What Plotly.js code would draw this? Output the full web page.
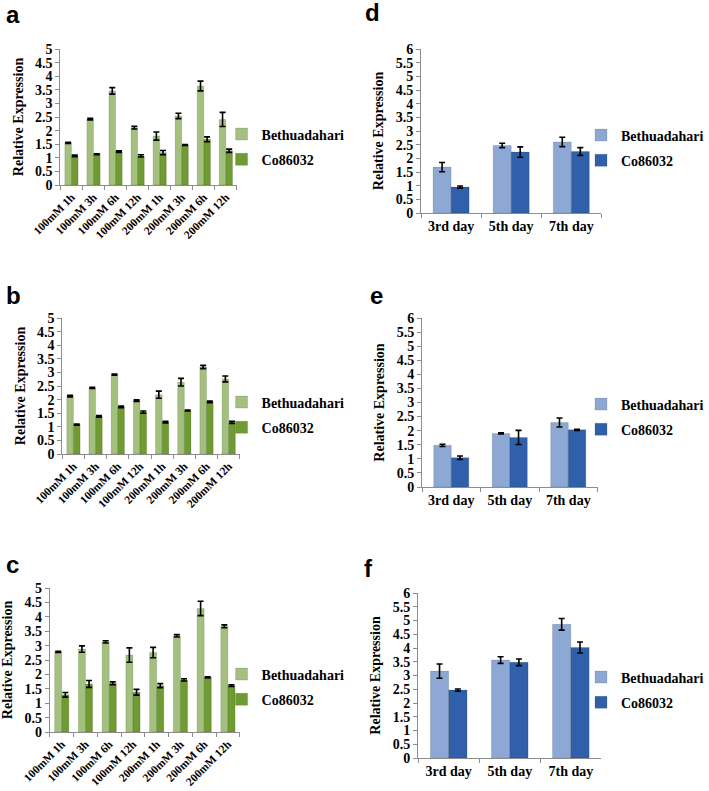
<!DOCTYPE html>
<html>
<head>
<meta charset="utf-8">
<script src="https://cdn.plot.ly/plotly-3.0.1.min.js"></script>
<style>
  body { margin: 0; background: #fff; }
  #plotArea { width: 709px; height: 791px; }
</style>
</head>
<body>
<div id="plotArea"></div>
<script>
// categories
var saltTimes = ["100mM 1h", "100mM 3h", "100mM 6h", "100mM 12h", "200mM 1h", "200mM 3h", "200mM 6h", "200mM 12h"];
var days = ["3rd day", "5th day", "7th day"];

// panel a
var aBeth = [1.55, 2.42, 3.46, 2.11, 1.80, 2.54, 3.64, 2.41];
var aBethErr = [0.02, 0.03, 0.12, 0.05, 0.15, 0.10, 0.18, 0.26];
var aCo = [1.07, 1.13, 1.23, 1.07, 1.19, 1.47, 1.68, 1.26];
var aCoErr = [0.03, 0.02, 0.03, 0.04, 0.08, 0.02, 0.09, 0.06];

// panel b
var bBeth = [2.13, 2.43, 2.92, 1.96, 2.18, 2.64, 3.20, 2.76];
var bBethErr = [0.03, 0.02, 0.02, 0.03, 0.13, 0.14, 0.06, 0.11];
var bCo = [1.08, 1.38, 1.73, 1.54, 1.17, 1.60, 1.92, 1.16];
var bCoErr = [0.02, 0.03, 0.03, 0.04, 0.03, 0.02, 0.03, 0.04];

// panel c
var cBeth = [2.78, 2.88, 3.13, 2.67, 2.76, 3.34, 4.29, 3.67];
var cBethErr = [0.02, 0.11, 0.04, 0.25, 0.18, 0.04, 0.25, 0.05];
var cCo = [1.29, 1.67, 1.69, 1.38, 1.61, 1.81, 1.90, 1.61];
var cCoErr = [0.08, 0.12, 0.05, 0.10, 0.07, 0.04, 0.02, 0.03];

// panel d
var dBeth = [1.68, 2.47, 2.60];
var dBethErr = [0.17, 0.08, 0.17];
var dCo = [0.95, 2.23, 2.25];
var dCoErr = [0.04, 0.19, 0.14];

// panel e
var eBeth = [1.48, 1.90, 2.29];
var eBethErr = [0.04, 0.02, 0.16];
var eCo = [1.04, 1.76, 2.03];
var eCoErr = [0.06, 0.25, 0.02];

// panel f
var fBeth = [3.16, 3.56, 4.86];
var fBethErr = [0.26, 0.12, 0.21];
var fCo = [2.47, 3.48, 4.02];
var fCoErr = [0.04, 0.12, 0.20];

var W = 709, H = 791;
function px(x) { return x / W; }
function py(y) { return 1 - y / H; }

var green1 = "#a3c07f", green2 = "#6f9b32";
var blue1 = "#8ea8d6", blue2 = "#2f60a9";

// box = [left, top, right, bottom] in pixels
var panels = [
  {id: "a", cats: saltTimes, beth: aBeth, bethErr: aBethErr, co: aCo, coErr: aCoErr, ymax: 5, box: [63, 49, 247, 185], leg: [253, 147], c1: green1, c2: green2, letter: [14, 14]},
  {id: "b", cats: saltTimes, beth: bBeth, bethErr: bBethErr, co: bCo, coErr: bCoErr, ymax: 5, box: [65, 318, 250, 454], leg: [253, 415], c1: green1, c2: green2, letter: [14, 295]},
  {id: "c", cats: saltTimes, beth: cBeth, bethErr: cBethErr, co: cCo, coErr: cCoErr, ymax: 5, box: [52, 588, 250, 732], leg: [253, 687], c1: green1, c2: green2, letter: [13, 564]},
  {id: "d", cats: days, beth: dBeth, bethErr: dBethErr, co: dCo, coErr: dCoErr, ymax: 6, box: [439, 49, 627, 213], leg: [628, 148], c1: blue1, c2: blue2, letter: [388, 13]},
  {id: "e", cats: days, beth: eBeth, bethErr: eBethErr, co: eCo, coErr: eCoErr, ymax: 6, box: [440, 318, 623, 487], leg: [628, 417], c1: blue1, c2: blue2, letter: [393, 295]},
  {id: "f", cats: days, beth: fBeth, bethErr: fBethErr, co: fCo, coErr: fCoErr, ymax: 6, box: [436, 593, 627, 758], leg: [628, 690], c1: blue1, c2: blue2, letter: [384, 568]}
];

var serif = "Liberation Serif";
var data = [];
var layout = {
  width: W, height: H,
  margin: {l: 0, r: 0, t: 0, b: 0},
  paper_bgcolor: "#ffffff",
  plot_bgcolor: "rgba(0,0,0,0)",
  barmode: "group",
  bargap: 0.4,
  bargroupgap: 0,
  font: {family: serif, color: "#000"},
  annotations: []
};

panels.forEach(function(p, i) {
  var n = i + 1;
  var xa = n === 1 ? "x" : "x" + n;
  var ya = n === 1 ? "y" : "y" + n;
  var lg = n === 1 ? "legend" : "legend" + n;
  var errStyle = {type: "data", visible: true, color: "#000", thickness: 1.6, width: 3};

  data.push({
    type: "bar", x: p.cats, y: p.beth, name: "Bethuadahari",
    xaxis: xa, yaxis: ya, legend: lg, legendgroup: p.id + "1",
    marker: {color: p.c1, line: {color: "rgba(60,80,40,0.35)", width: 0.5}},
    error_y: Object.assign({array: p.bethErr}, errStyle)
  });
  data.push({
    type: "bar", x: p.cats, y: p.co, name: "Co86032",
    xaxis: xa, yaxis: ya, legend: lg, legendgroup: p.id + "2",
    marker: {color: p.c2, line: {color: "rgba(40,50,30,0.35)", width: 0.5}},
    error_y: Object.assign({array: p.coErr}, errStyle)
  });

  var xKey = n === 1 ? "xaxis" : "xaxis" + n;
  var yKey = n === 1 ? "yaxis" : "yaxis" + n;
  var rotated = p.cats.length > 3;

  layout[xKey] = {
    domain: [px(p.box[0]), px(p.box[2])],
    anchor: ya,
    type: "category",
    showline: true, linecolor: "#8c8c8c", linewidth: 1,
    ticks: "outside", tickson: "boundaries", ticklen: 4, tickcolor: "#8c8c8c",
    tickangle: rotated ? -45 : 0,
    tickfont: {family: serif, size: rotated ? 11.5 : 14, color: "#000", weight: "bold"},
    showgrid: false, zeroline: false, fixedrange: true
  };
  layout[yKey] = {
    domain: [py(p.box[3]), py(p.box[1])],
    anchor: xa,
    range: [0, p.ymax], dtick: 0.5,
    showline: true, linecolor: "#8c8c8c", linewidth: 1,
    ticks: "outside", ticklen: 4, tickcolor: "#8c8c8c",
    tickfont: {family: serif, size: 14, color: "#000", weight: "bold"},
    showgrid: false, zeroline: false,
    title: {text: "Relative Expression", font: {family: serif, size: 14, color: "#000", weight: "bold"}, standoff: 8}
  };

  layout[lg] = {
    x: px(p.leg[0] - 22), y: py(p.leg[1]),
    xanchor: "left", yanchor: "middle",
    bgcolor: "rgba(0,0,0,0)",
    font: {family: serif, size: 14, color: "#000", weight: "bold"},
    itemwidth: 30, tracegroupgap: 4, traceorder: "grouped"
  };

  layout.annotations.push({
    text: p.id, xref: "paper", yref: "paper",
    x: px(p.letter[0]), y: py(p.letter[1]),
    xanchor: "center", yanchor: "middle", showarrow: false,
    font: {family: "Liberation Sans", size: 24, color: "#000", weight: "bold"}
  });
});

Plotly.newPlot("plotArea", data, layout, {staticPlot: true});
</script>
</body>
</html>
